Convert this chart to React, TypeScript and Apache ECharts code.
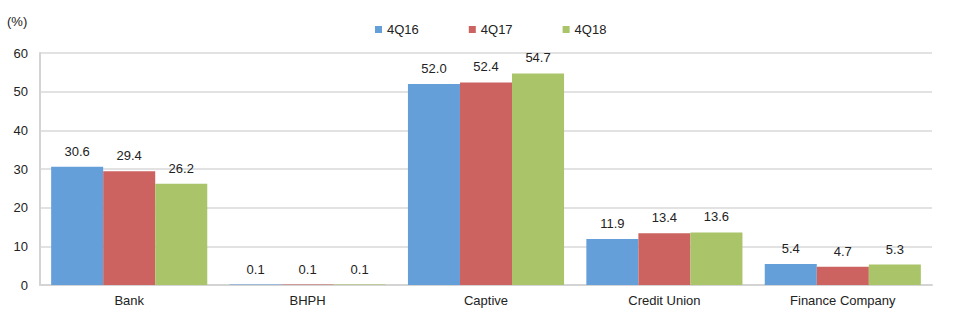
import React, { useEffect, useRef } from "react";
import * as echarts from "echarts";

const categories = ["Bank", "BHPH", "Captive", "Credit Union", "Finance Company"];
const seriesNames = ["4Q16", "4Q17", "4Q18"];
const values4Q16 = [30.6, 0.1, 52.0, 11.9, 5.4];
const values4Q17 = [29.4, 0.1, 52.4, 13.4, 4.7];
const values4Q18 = [26.2, 0.1, 54.7, 13.6, 5.3];
const colors = ["#659FDA", "#CC6360", "#A9C469"];
const yTicks = { min: 0, max: 60, interval: 10 };

export default function App() {
  const ref = useRef<HTMLDivElement>(null);
  useEffect(() => {
    document.body.style.margin = "0";
    const chart = echarts.init(ref.current!, null, { renderer: "svg" });
    const font = "Liberation Sans, Arial, sans-serif";
    const data = [values4Q16, values4Q17, values4Q18];
    chart.setOption({
      animation: false,
      textStyle: { fontFamily: font },
      legend: {
        data: seriesNames,
        left: 370,
        top: 18,
        itemWidth: 7,
        itemHeight: 7,
        itemGap: 50,
        icon: "rect",
        textStyle: { fontSize: 13, color: "#222", fontFamily: font },
      },
      graphic: [
        {
          type: "text",
          left: 7,
          top: 15,
          style: { text: "(%)", fontSize: 13, fill: "#222", fontFamily: font },
        },
      ],
      grid: { left: 40, right: 28, top: 53, bottom: 38, containLabel: false },
      xAxis: {
        type: "category",
        data: categories,
        axisTick: { show: false },
        axisLine: { show: true, lineStyle: { color: "#d4d4d4", width: 2 } },
        axisLabel: { color: "#222", fontSize: 13, margin: 9, fontFamily: font },
      },
      yAxis: {
        type: "value",
        min: yTicks.min,
        max: yTicks.max,
        interval: yTicks.interval,
        axisLine: { show: true, lineStyle: { color: "#d4d4d4", width: 2 } },
        axisTick: { show: false },
        splitLine: { lineStyle: { color: "#d9d9d9", width: 1.5 } },
        axisLabel: { color: "#222", fontSize: 13, margin: 12, fontFamily: font },
      },
      series: seriesNames.map((name, i) => ({
        name,
        type: "bar",
        data: data[i],
        barGap: "0%",
        barCategoryGap: "12.5%",
        itemStyle: { color: colors[i] },
        label: {
          show: true,
          position: "top",
          distance: 9,
          color: "#222",
          fontSize: 13,
          fontFamily: font,
          formatter: (p: any) => Number(p.value).toFixed(1),
        },
      })),
    });
    return () => chart.dispose();
  }, []);
  return <div ref={ref} style={{ width: 960, height: 323 }} />;
}
